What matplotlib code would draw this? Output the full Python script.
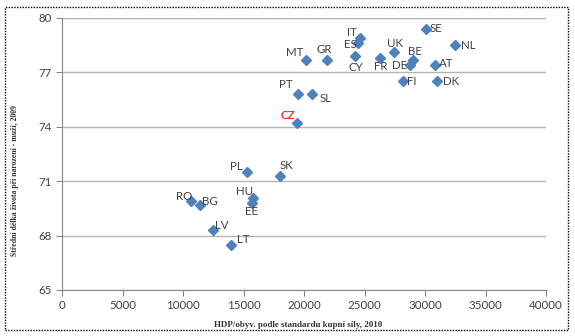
import matplotlib
matplotlib.use("Agg")
import matplotlib.pyplot as plt
from matplotlib.patches import Rectangle

# data
countries = ["SE", "NL", "IT", "ES", "CY", "MT", "GR", "FR", "UK", "BE", "DE", "AT", "FI", "DK",
             "PT", "SL", "CZ", "PL", "SK", "HU", "EE", "RO", "BG", "LV", "LT"]
hdp = [30100, 32500, 24600, 24500, 24200, 20200, 21900, 26300, 27400, 29000, 28800, 30800, 28200, 31000,
       19500, 20700, 19400, 15300, 18000, 15800, 15700, 10700, 11400, 12500, 14000]
life = [79.4, 78.5, 78.9, 78.6, 77.9, 77.7, 77.7, 77.8, 78.1, 77.7, 77.4, 77.4, 76.5, 76.5,
        75.8, 75.8, 74.2, 71.5, 71.3, 70.1, 69.8, 69.9, 69.7, 68.3, 67.5]

x_ticks = [0, 5000, 10000, 15000, 20000, 25000, 30000, 35000, 40000]
y_ticks = [65, 68, 71, 74, 77, 80]

# label offsets in pixels (dx, dy; dy positive = up)
label_off = {
    "SE": (10, 0), "NL": (13, 0), "IT": (-8, 5), "ES": (-8, -1), "CY": (1, -11),
    "MT": (-12, 7), "GR": (-3, 10), "FR": (1, -9), "UK": (1, 9), "BE": (2, 8),
    "DE": (-11, 0), "AT": (12, 2), "FI": (9, 0), "DK": (14, 0), "PT": (-12, 10),
    "SL": (13, -4), "CZ": (-9, 8), "PL": (-11, 6), "SK": (7, 10), "HU": (-9, 6),
    "EE": (0, -9), "RO": (-7, 5), "BG": (10, 3), "LV": (8, 5), "LT": (12, 5),
}

fig = plt.figure(figsize=(5.75, 3.36), dpi=100)
ax = fig.add_axes([62 / 575, 1 - 290 / 336, (546 - 62) / 575, (290 - 18) / 336])

ax.plot(hdp, life, linestyle="none", marker="D", markersize=5.4,
        color="#4F81BD", markeredgecolor="#4F81BD", zorder=3, clip_on=False)

for c, x, y in zip(countries, hdp, life):
    dx, dy = label_off[c]
    ax.annotate(c, (x, y), xytext=(dx, dy), textcoords="offset pixels",
                ha="center", va="center", fontsize=8.3, family="Lato",
                color="#FF0000" if c == "CZ" else "#404040")

ax.set_xlim(0, 40000)
ax.set_ylim(65, 80)
ax.set_xticks(x_ticks)
ax.set_yticks(y_ticks)
ax.tick_params(labelsize=8.3, colors="#868686", labelcolor="#404040", length=4, direction="out")
for lab in ax.get_xticklabels() + ax.get_yticklabels():
    lab.set_family("Lato")
ax.yaxis.grid(True, color="#B3B3B3", linewidth=1)
ax.set_axisbelow(True)
for s in ["top", "right"]:
    ax.spines[s].set_visible(False)
for s in ["left", "bottom"]:
    ax.spines[s].set_color("#868686")

ax.set_xlabel("HDP/obyv. podle standardu kupní síly, 2010", fontsize=6.5,
              family="Liberation Serif", fontweight="bold", color="#333333")
ax.xaxis.set_label_coords(0.488, -0.115)
ax.set_ylabel("Střední délka života při narození - muži, 2009", fontsize=5.6,
              family="Liberation Serif", fontweight="bold", color="#333333")
ax.yaxis.set_label_coords(-0.089, 0.404)

# dotted frame around the chart
fig.patches.append(Rectangle((5 / 575, 6 / 336), 563 / 575, 323 / 336, transform=fig.transFigure,
                             fill=False, edgecolor="black", linestyle=(0, (1, 1)), linewidth=1))

fig.savefig("out.png", dpi=100)
